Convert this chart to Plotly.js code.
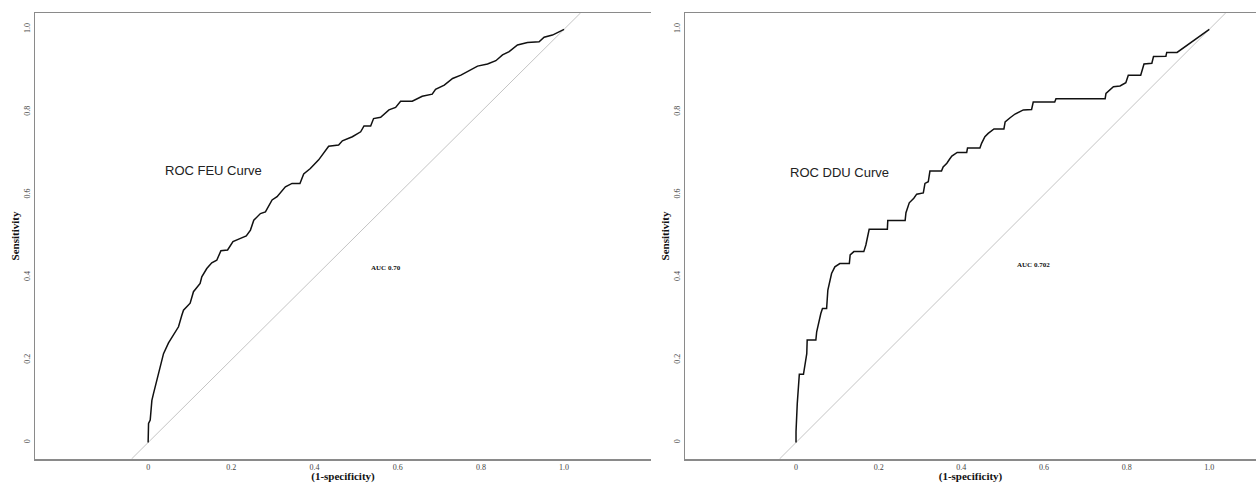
<!DOCTYPE html>
<html>
<head>
<meta charset="utf-8">
<script src="https://cdn.plot.ly/plotly-3.0.1.min.js"></script>
<style>html,body{margin:0;padding:0;background:#fff;}#chart{width:1256px;height:483px;}</style>
</head>
<body>
<div id="chart"></div>
<script>
// ROC FEU curve (1-specificity, sensitivity)
const feuFpr = [0, 0.001, 0.005, 0.009, 0.013, 0.021, 0.029, 0.037, 0.049, 0.061, 0.073, 0.081, 0.085, 0.101, 0.109, 0.125, 0.129, 0.141, 0.153, 0.165, 0.175, 0.191, 0.204, 0.222, 0.236, 0.246, 0.254,
  0.270, 0.282, 0.298, 0.310, 0.330, 0.346, 0.365, 0.374, 0.390, 0.410, 0.434, 0.458, 0.467, 0.491, 0.511, 0.519, 0.535, 0.542, 0.559, 0.579, 0.595, 0.607, 0.635, 0.659, 0.683, 0.691, 0.712, 0.732, 0.752, 0.772, 0.792, 0.816, 0.836, 0.852, 0.868, 0.888, 0.912, 0.940, 0.952, 0.972, 1.0];
const feuTpr = [0, 0.046, 0.054, 0.102, 0.119, 0.151, 0.183, 0.215, 0.241, 0.260, 0.280, 0.308, 0.320, 0.337, 0.365, 0.385, 0.401, 0.421, 0.435, 0.441, 0.464, 0.466, 0.486, 0.494, 0.500, 0.514, 0.538,
  0.554, 0.558, 0.587, 0.595, 0.619, 0.627, 0.627, 0.650, 0.663, 0.684, 0.717, 0.720, 0.730, 0.740, 0.752, 0.766, 0.766, 0.784, 0.787, 0.805, 0.811, 0.826, 0.826, 0.838, 0.843, 0.855, 0.865, 0.881, 0.889, 0.899, 0.911, 0.916, 0.924, 0.938, 0.946, 0.962, 0.968, 0.970, 0.981, 0.986, 1.0];

// ROC DDU curve (1-specificity, sensitivity)
const dduFpr = [0, 0.000, 0.003, 0.006, 0.008, 0.018, 0.022, 0.026, 0.027, 0.048, 0.050, 0.054, 0.060, 0.064, 0.074, 0.077, 0.081, 0.086, 0.094, 0.106, 0.129, 0.131, 0.140, 0.164, 0.169, 0.177, 0.221, 0.222, 0.264, 0.266, 0.274, 0.285, 0.292, 0.308, 0.312, 0.320, 0.324, 0.352, 0.356, 0.365, 0.371, 0.377, 0.390, 0.413, 0.415, 0.445, 0.449, 0.457, 0.465, 0.479, 0.503, 0.506, 0.518, 0.530, 0.550, 0.570, 0.574, 0.626, 0.629, 0.748, 0.750, 0.760, 0.768, 0.784, 0.798, 0.804, 0.834, 0.842, 0.861, 0.865, 0.895, 0.897, 0.922, 1.0];
const dduTpr = [0, 0.026, 0.094, 0.143, 0.165, 0.165, 0.191, 0.215, 0.248, 0.248, 0.268, 0.288, 0.312, 0.324, 0.324, 0.369, 0.385, 0.409, 0.425, 0.433, 0.433, 0.454, 0.462, 0.462, 0.478, 0.516, 0.516, 0.537, 0.537, 0.556, 0.580, 0.591, 0.601, 0.604, 0.627, 0.631, 0.657, 0.657, 0.667, 0.676, 0.685, 0.693, 0.702, 0.702, 0.713, 0.713, 0.724, 0.740, 0.748, 0.759, 0.759, 0.776, 0.786, 0.795, 0.805, 0.806, 0.824, 0.824, 0.832, 0.832, 0.845, 0.853, 0.861, 0.863, 0.871, 0.889, 0.889, 0.916, 0.918, 0.934, 0.935, 0.944, 0.944, 1.0];

// Chance (reference) line, spanning the vertical range
const refLine = [-0.04, 1.04];

const tickVals = [0, 0.2, 0.4, 0.6, 0.8, 1.0];
const tickText = ['0', '0.2', '0.4', '0.6', '0.8', '1.0'];

const panelLabels = ['ROC FEU Curve', 'ROC DDU Curve'];
const aucLabels = ['AUC 0.70', 'AUC 0.702'];
const xTitle = '(1-specificity)';
const yTitle = 'Sensitivity';

const curveLine = {color: '#111', width: 1.5};
const refStyle = {color: '#c4c4c4', width: 1};

const traces = [
  {x: refLine, y: refLine, xaxis: 'x', yaxis: 'y', mode: 'lines', line: refStyle, hoverinfo: 'skip', name: 'chance'},
  {x: feuFpr, y: feuTpr, xaxis: 'x', yaxis: 'y', mode: 'lines', line: curveLine, name: 'FEU'},
  {x: refLine, y: refLine, xaxis: 'x2', yaxis: 'y2', mode: 'lines', line: refStyle, hoverinfo: 'skip', name: 'chance'},
  {x: dduFpr, y: dduTpr, xaxis: 'x2', yaxis: 'y2', mode: 'lines', line: curveLine, name: 'DDU'}
];

const tickFont = {family: '"Liberation Serif", "DejaVu Serif", serif', size: 8, color: '#444'};
const titleFont = {family: '"Liberation Serif", "DejaVu Serif", serif', size: 11, color: '#111', weight: 'bold'};

function xAxis(domain, range, anchor) {
  return {
    domain: domain, range: range, anchor: anchor,
    showline: true, mirror: true, linecolor: '#8a8a8a', linewidth: 1.5,
    showgrid: false, zeroline: false, ticks: '',
    tickmode: 'array', tickvals: tickVals, ticktext: tickText,
    tickfont: tickFont, automargin: false,
    title: {text: '<b>' + xTitle + '</b>', font: titleFont, standoff: 4}
  };
}
function yAxis(anchor) {
  return {
    domain: [0, 1], range: [-0.04, 1.0395], anchor: anchor,
    showline: true, mirror: false, linecolor: '#8a8a8a', linewidth: 1.5,
    showgrid: false, zeroline: false, ticks: '',
    tickmode: 'array', tickvals: tickVals, ticktext: tickText,
    tickangle: -90, tickfont: tickFont, automargin: false,
    title: {text: '<b>' + yTitle + '</b>', font: titleFont, standoff: 1}
  };
}

const annFontBig = {family: '"Liberation Sans", Arial, sans-serif', size: 13, color: '#222'};
const annFontSmall = {family: '"Liberation Serif", serif', size: 7, color: '#111'};

const layout = {
  width: 1256, height: 483,
  margin: {l: 35, r: 0, t: 13, b: 24},
  paper_bgcolor: '#fff', plot_bgcolor: '#fff',
  showlegend: false,
  xaxis: xAxis([0, 0.5045], [-0.272, 1.209], 'y'),
  yaxis: yAxis('x'),
  xaxis2: xAxis([0.5324, 1], [-0.2685, 1.113], 'y2'),
  yaxis2: yAxis('x2'),
  annotations: [
    {xref: 'x', yref: 'y', x: 0.158, y: 0.659, text: panelLabels[0], showarrow: false, font: annFontBig},
    {xref: 'x2', yref: 'y2', x: 0.104, y: 0.654, text: panelLabels[1], showarrow: false, font: annFontBig},
    {xref: 'x', yref: 'y', x: 0.571, y: 0.422, text: '<b>' + aucLabels[0] + '</b>', showarrow: false, font: annFontSmall},
    {xref: 'x2', yref: 'y2', x: 0.575, y: 0.429, text: '<b>' + aucLabels[1] + '</b>', showarrow: false, font: annFontSmall}
  ]
};

Plotly.newPlot('chart', traces, layout, {displayModeBar: false, staticPlot: true});
</script>
</body>
</html>
